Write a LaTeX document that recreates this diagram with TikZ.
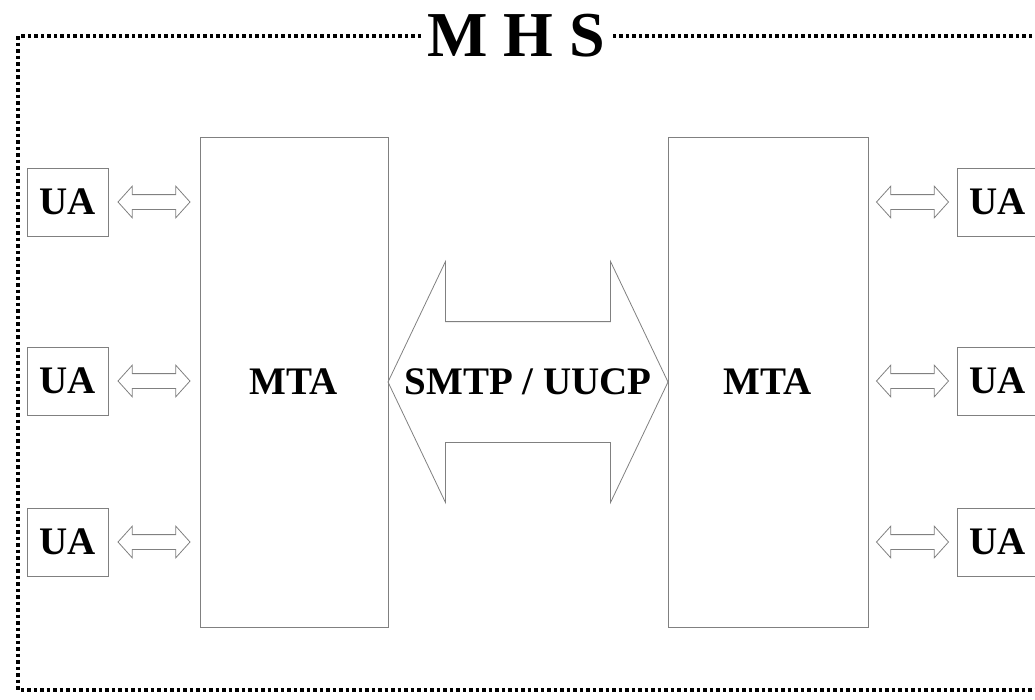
\documentclass[tikz,border=0pt]{standalone}
\usepackage{fontspec}
\setmainfont{Liberation Serif}
\usetikzlibrary{shapes.arrows, calc}

\definecolor{boxgray}{gray}{0.5}

\begin{document}
\begin{tikzpicture}[x=1pt, y=-1pt,
        box/.style={draw=boxgray, line width=1pt, inner sep=0pt,
            font=\bfseries\fontsize{39}{39}\selectfont},
        uabox/.style={box, minimum width=81pt, minimum height=68pt},
        mtabox/.style={box, minimum height=490pt},
        link/.style={double arrow, draw=boxgray, line width=0.8pt,
            inner xsep=0pt, inner ysep=7pt,
            minimum height=72pt, minimum width=31pt,
            double arrow head extend=8.5pt, double arrow tip angle=96},
        bigarrow/.style={double arrow, draw=boxgray, line width=0.8pt,
            inner xsep=0pt, inner ysep=60pt,
            minimum height=280pt, minimum width=240pt,
            double arrow head extend=60pt, double arrow tip angle=129},
        frame/.style={line width=3.5pt, dash pattern=on 3.5pt off 3pt}]
        \useasboundingbox (0, 0) rectangle (1035, 699);
        \clip (0, 0) rectangle (1035, 699);

        % outer system boundary
        \draw[frame] (1045, 36) -- (18, 36) -- (18, 690) -- (1045, 690);
        \node[fill=white, inner xsep=6pt, inner ysep=0pt, anchor=base,
            font=\bfseries\fontsize{64}{64}\selectfont] (mhs) at (516, 56) {M H S};

        % transfer agents
        \node[mtabox, minimum width=188pt] (mtaL) at (294, 382) {MTA};
        \node[mtabox, minimum width=200pt] (mtaR) at (768, 382) {MTA};

        \node[bigarrow] (smtp) at ($(mtaL.east)!0.5!(mtaR.west)$) {};
        \node[font=\bfseries\fontsize{39}{39}\selectfont, inner sep=0pt] (proto) at (smtp.center) {SMTP / UUCP};

        % user agents
        \foreach \y/\n in {202/1, 381/2, 542/3} {
            \node[uabox] (uaL\n) at (67.5, \y) {UA};
            \node[uabox] (uaR\n) at (997.5, \y) {UA};
            \node[link] (linkL\n) at ($(uaL\n.east)!0.5!(mtaL.west |- uaL\n.east)$) {};
            \node[link] (linkR\n) at ($(uaR\n.west)!0.5!(mtaR.east |- uaR\n.west)$) {};
        }
    \end{tikzpicture}
\end{document}
